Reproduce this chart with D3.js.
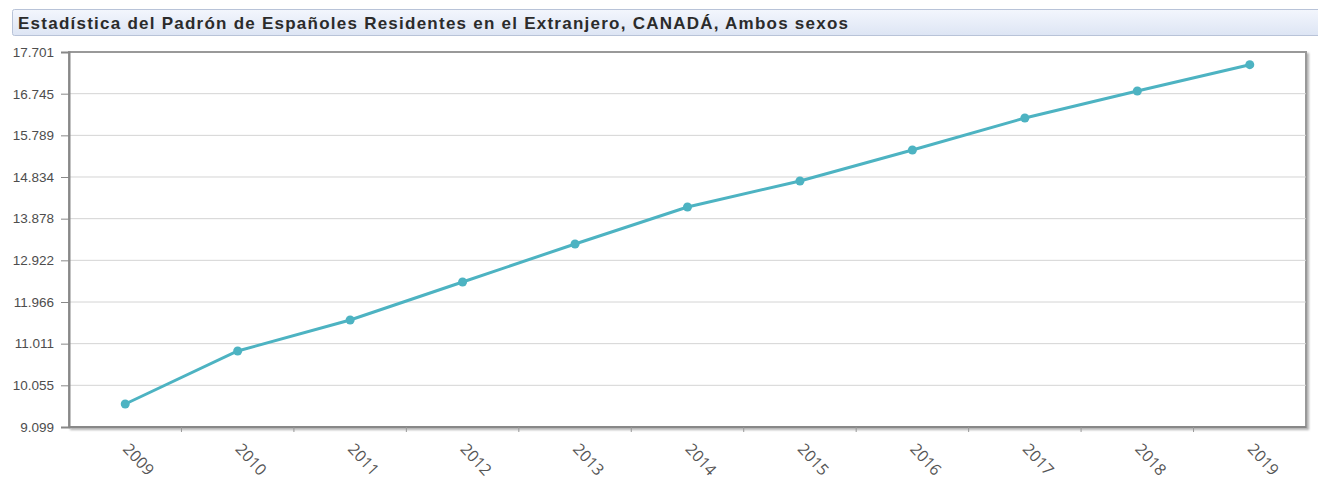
<html lang="es">
<head>
  <meta charset="UTF-8"/>
  <title>Padrón CANADÁ</title>
  <script src="https://d3js.org/d3.v7.min.js"></script>
</head>
<style>
body {
  margin: 0;
  background: #fff;
  font-family: 'Open Sans', sans-serif;
}

svg {
  width: 1318px;
  height: 479px;
  display: block;
}

text.title {
  font-family: 'Liberation Sans', Arial, sans-serif;
  font-size: 17px;
  font-weight: 700;
  fill: #2b2b2b;
}

.yaxis text {
  font-size: 13.5px;
  fill: #4d4d4d;
}

.xaxis text {
  font-size: 16px;
  fill: #555;
}

.grid line {
  stroke: #d4d4d4;
  stroke-width: 1;
}

.serie {
  fill: none;
  stroke: #4db3c2;
  stroke-width: 3;
}

.punto {
  fill: #4db3c2;
}
</style>
<body>
<svg></svg>
<script>
    const years = ['2009', '2010', '2011', '2012', '2013', '2014', '2015', '2016', '2017', '2018', '2019'];
    const residents = [9627, 10842, 11554, 12425, 13297, 14146, 14742, 15453, 16187, 16807, 17410];
    const yTicks = [9099, 10055, 11011, 11966, 12922, 13878, 14834, 15789, 16745, 17701];
    const titleText = 'Estadística del Padrón de Españoles Residentes en el Extranjero, CANADÁ, Ambos sexos';

    const svg = d3.select('svg');

    // title bar
    const defs = svg.append('defs');
    const grad = defs.append('linearGradient')
      .attr('id', 'barra')
      .attr('x1', 0).attr('y1', 0).attr('x2', 0).attr('y2', 1);
    grad.append('stop').attr('offset', '0%').attr('stop-color', '#f3f6fd');
    grad.append('stop').attr('offset', '100%').attr('stop-color', '#dde5f4');

    const shadow = defs.append('filter').attr('id', 'sombra')
      .attr('x', '-2%').attr('y', '-2%').attr('width', '104%').attr('height', '110%');
    shadow.append('feDropShadow')
      .attr('dx', 2).attr('dy', 2).attr('stdDeviation', 1.2)
      .attr('flood-color', '#000').attr('flood-opacity', 0.3);

    svg.append('rect')
      .attr('x', 12.5).attr('y', 9.5)
      .attr('width', 1310).attr('height', 26)
      .attr('rx', 2)
      .attr('fill', 'url(#barra)')
      .attr('stroke', '#b8c3d8');

    svg.append('text')
      .attr('class', 'title')
      .attr('x', 18)
      .attr('y', 29)
      .attr('textLength', 830)
      .attr('lengthAdjust', 'spacing')
      .text(titleText);

    const mLeft = 69, mRight = 1306, mTop = 52, mBottom = 427;

    const x = d3.scaleBand()
      .domain(years)
      .range([mLeft, mRight]);

    const y = d3.scaleLinear()
      .domain([yTicks[0], yTicks[yTicks.length - 1]])
      .range([mBottom, mTop]);

    const fmt = d3.formatLocale({decimal: ',', thousands: '.', grouping: [3], currency: ['', '€']}).format(',.0f');

    // plot frame with shadow
    svg.append('rect')
      .attr('x', mLeft).attr('y', mTop)
      .attr('width', mRight - mLeft).attr('height', mBottom - mTop)
      .attr('fill', '#fff')
      .attr('stroke', '#999')
      .attr('stroke-width', 2)
      .attr('filter', 'url(#sombra)');

    svg.append('g')
      .attr('class', 'grid')
      .selectAll('line')
      .data(yTicks.slice(1, -1))
      .join('line')
      .attr('x1', mLeft).attr('x2', mRight)
      .attr('y1', d => y(d)).attr('y2', d => y(d));

    // y axis
    const yAxis = svg.append('g')
      .attr('class', 'yaxis')
      .attr('transform', `translate(${mLeft}, 0)`)
      .call(d3.axisLeft(y).tickValues(yTicks).tickFormat(fmt).tickSize(8).tickPadding(7));
    yAxis.select('.domain').attr('stroke', '#888').attr('stroke-width', 2);
    yAxis.selectAll('.tick line').attr('stroke', '#888');

    // x axis: ticks between categories
    const xAxis = svg.append('g')
      .attr('class', 'xaxis')
      .attr('transform', `translate(0, ${mBottom})`);
    xAxis.append('line')
      .attr('x1', mLeft).attr('x2', mRight)
      .attr('stroke', '#888').attr('stroke-width', 2);
    xAxis.selectAll('line.tk')
      .data(years.slice(1))
      .join('line')
      .attr('class', 'tk')
      .attr('x1', d => x(d)).attr('x2', d => x(d))
      .attr('y1', 0).attr('y2', 5)
      .attr('stroke', '#999');
    xAxis.selectAll('text')
      .data(years)
      .join('text')
      .attr('transform', d => `translate(${x(d) + x.bandwidth() / 2 + 1}, 19) rotate(47)`)
      .attr('text-anchor', 'start')
      .attr('dy', '0.35em')
      .text(d => d);

    const line = d3.line()
      .x((d, i) => x(years[i]) + x.bandwidth() / 2)
      .y(d => y(d));

    svg.append('path')
      .datum(residents)
      .attr('class', 'serie')
      .attr('d', line);

    svg.selectAll('circle.punto')
      .data(residents)
      .join('circle')
      .attr('class', 'punto')
      .attr('cx', (d, i) => x(years[i]) + x.bandwidth() / 2)
      .attr('cy', d => y(d))
      .attr('r', 4.5);
</script>
</body>
</html>
